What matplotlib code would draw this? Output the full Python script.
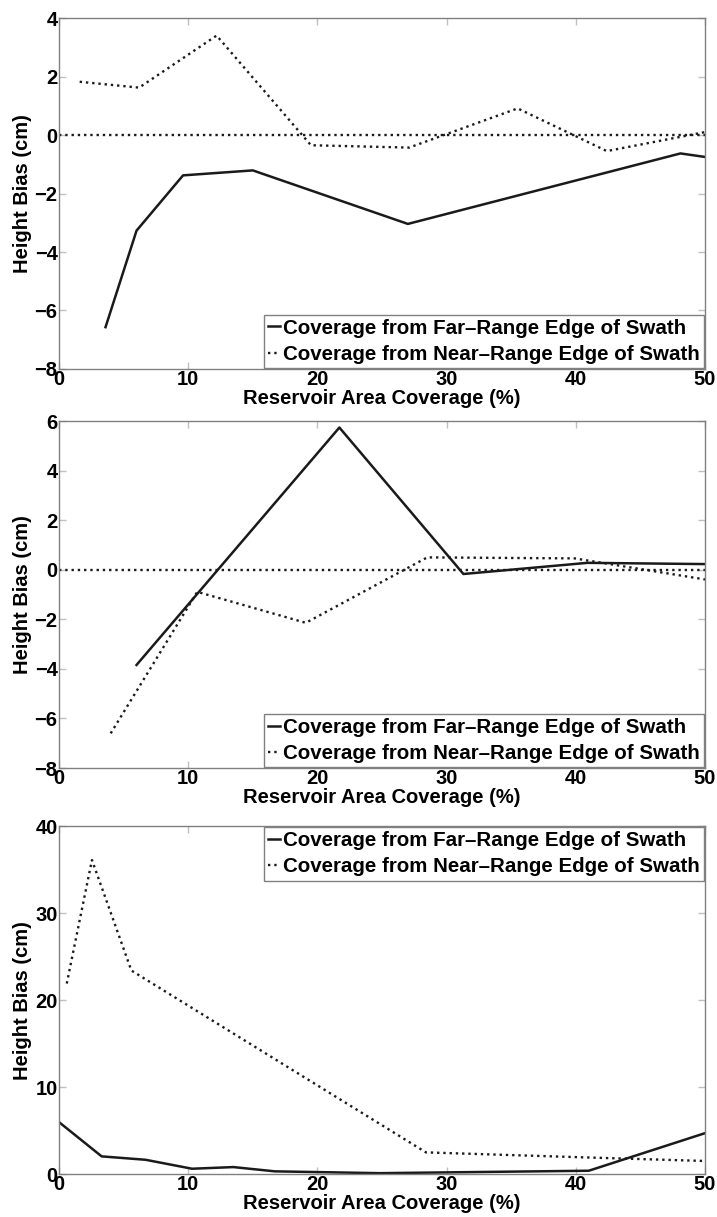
import matplotlib
matplotlib.use('Agg')
import matplotlib.pyplot as plt

plt.rcParams['font.family'] = ['Liberation Sans', 'DejaVu Sans']

# coverage (%) vs height bias (cm), one pair of curves per panel
far_x1 = [3.6, 6.0, 9.6, 15.0, 27.0, 48.1, 50.0]
far_y1 = [-6.57, -3.27, -1.38, -1.21, -3.04, -0.63, -0.75]
near_x1 = [1.6, 6.2, 12.2, 19.5, 27.1, 35.5, 42.4, 50.0]
near_y1 = [1.82, 1.62, 3.40, -0.35, -0.43, 0.91, -0.55, 0.10]

far_x2 = [6.0, 21.7, 31.3, 40.9, 50.0]
far_y2 = [-3.84, 5.74, -0.17, 0.28, 0.23]
near_x2 = [4.0, 10.7, 19.1, 28.5, 39.9, 50.0]
near_y2 = [-6.6, -0.89, -2.14, 0.50, 0.46, -0.39]

far_x3 = [0.0, 3.3, 6.7, 10.3, 13.5, 16.7, 24.8, 41.0, 50.0]
far_y3 = [5.97, 2.03, 1.64, 0.61, 0.80, 0.31, 0.10, 0.38, 4.70]
near_x3 = [0.6, 2.55, 5.6, 28.4, 41.0, 50.0]
near_y3 = [21.9, 36.1, 23.4, 2.49, 1.90, 1.50]

ylims = [(-8, 4), (-8, 6), (0, 40)]
yticks = [range(-8, 5, 2), range(-8, 7, 2), range(0, 41, 10)]
legend_locs = ['lower right', 'lower right', 'upper right']
zero_line = [True, True, False]

far_lbl = 'Coverage from Far\u2013Range Edge of Swath'
near_lbl = 'Coverage from Near\u2013Range Edge of Swath'

fig = plt.figure(figsize=(7.17, 12.17), dpi=100)
boxes = [[0.0823, 0.6968, 0.901, 0.2884],
         [0.0823, 0.3689, 0.901, 0.2851],
         [0.0823, 0.0353, 0.901, 0.2859]]

data = [(far_x1, far_y1, near_x1, near_y1),
        (far_x2, far_y2, near_x2, near_y2),
        (far_x3, far_y3, near_x3, near_y3)]

for i, (fx, fy, nx, ny) in enumerate(data):
    ax = fig.add_axes(boxes[i])
    ax.plot(fx, fy, '-', color='#1a1a1a', lw=1.8, label=far_lbl)
    ax.plot(nx, ny, ':', color='#1a1a1a', lw=1.7, label=near_lbl)
    if zero_line[i]:
        ax.axhline(0, ls=':', color='#1a1a1a', lw=1.7)
    ax.set_xlim(0, 50)
    ax.set_ylim(*ylims[i])
    ax.set_xticks(range(0, 51, 10))
    ax.set_yticks(list(yticks[i]))
    for s in ax.spines.values():
        s.set_color('#808080')
        s.set_linewidth(1.0)
    ax.tick_params(direction='in', length=5, width=1, color='#c0c0c0',
                   top=True, right=True, labelsize=14.5, pad=1)
    for t in ax.get_xticklabels() + ax.get_yticklabels():
        t.set_fontweight('bold')
    ax.set_xlabel('Reservoir Area Coverage (%)', fontsize=14.5, fontweight='bold',
                  labelpad=0)
    ax.set_ylabel('Height Bias (cm)', fontsize=14.5, fontweight='bold', labelpad=2)
    leg = ax.legend(loc=legend_locs[i], handlelength=0.6,
                    prop={'size': 14.8, 'weight': 'bold'},
                    handletextpad=0.15, borderaxespad=0.05, borderpad=0.2,
                    labelspacing=0.35, fancybox=False, framealpha=1)
    leg.get_frame().set_edgecolor('#808080')
    leg.get_frame().set_linewidth(1.0)

fig.savefig('out.png', dpi=100)
